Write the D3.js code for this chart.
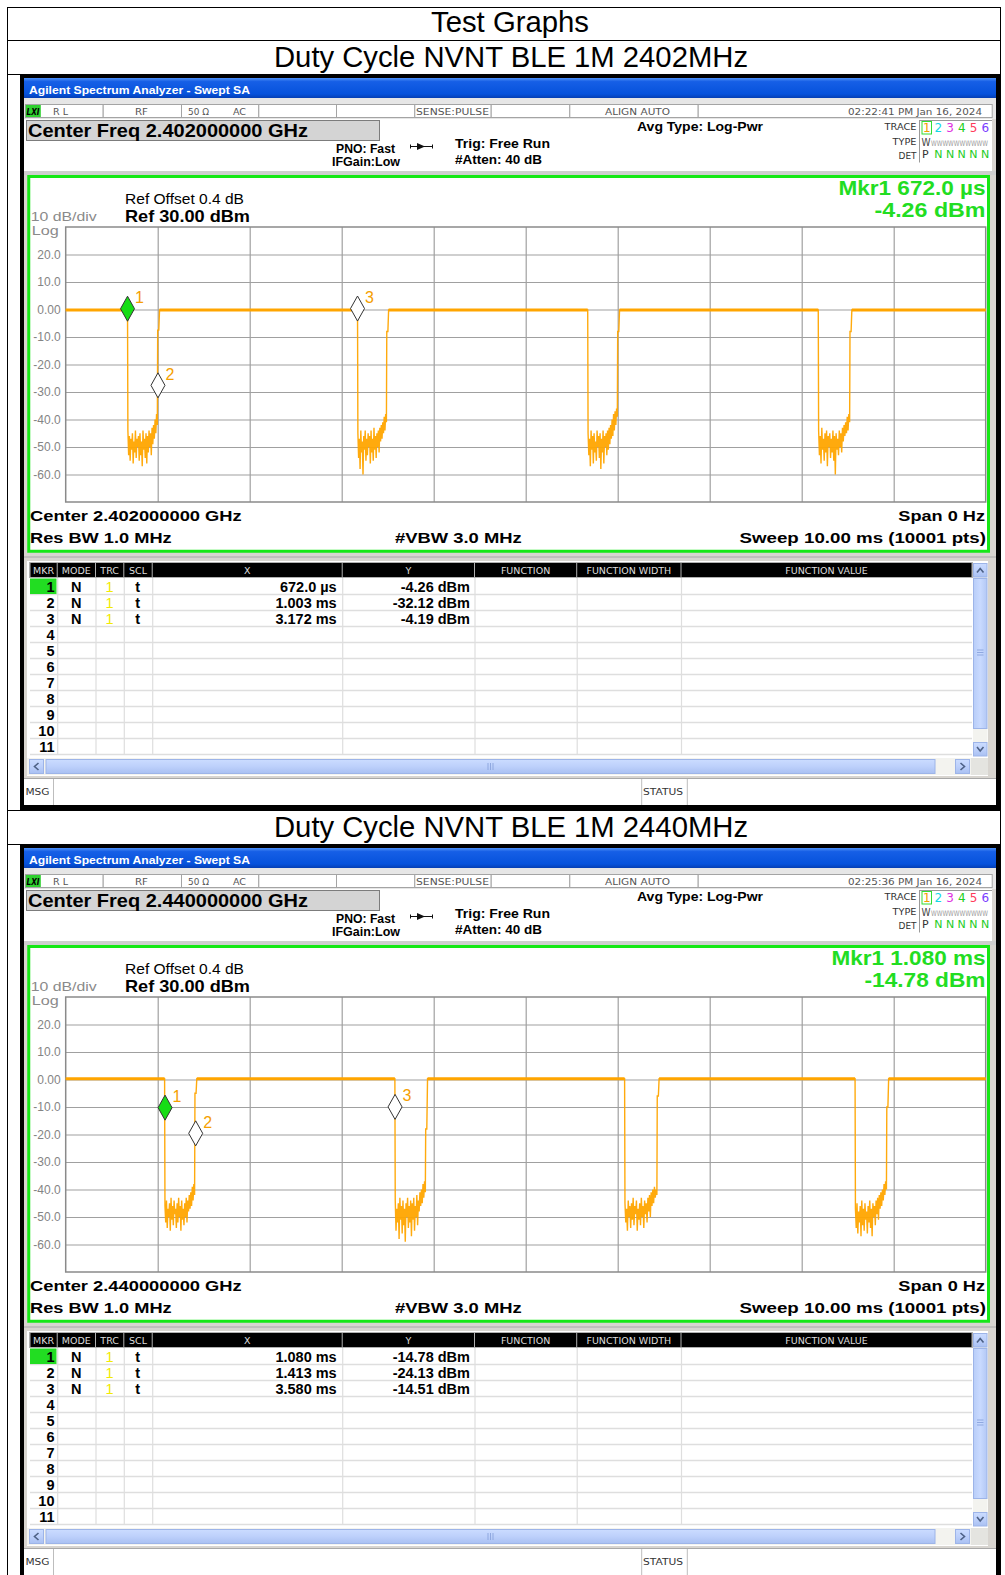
<!DOCTYPE html>
<html><head><meta charset="utf-8">
<script src="https://cdn.jsdelivr.net/npm/d3@7"></script>
<style>html,body{margin:0;padding:0;background:#fff;}svg{display:block;}</style>
</head><body><svg id="c" width="1005" height="1575"></svg>
<script>
// ---------------- DATA ----------------
const pageTitle = "Test Graphs";
const panelTitles = ["Duty Cycle NVNT BLE 1M 2402MHz", "Duty Cycle NVNT BLE 1M 2440MHz"];
const centerFreqs = ["2.402000000 GHz", "2.440000000 GHz"];
const timestamps = ["02:22:41 PM Jan 16, 2024", "02:25:36 PM Jan 16, 2024"];
const activeMkrX = ["Mkr1 672.0 µs", "Mkr1 1.080 ms"];
const activeMkrY = ["-4.26 dBm", "-14.78 dBm"];
const sweepRange = [0, 10];          // ms
const ampRange = [-70, 30];          // dBm
const xGridValues = [1, 2, 3, 4, 5, 6, 7, 8, 9];
const yTickValues = [20, 10, 0, -10, -20, -30, -40, -50, -60];
const yTickLabels = ["20.0", "10.0", "0.00", "-10.0", "-20.0", "-30.0", "-40.0", "-50.0", "-60.0"];
const tableHeaders = ["MKR", "MODE", "TRC", "SCL", "X", "Y", "FUNCTION", "FUNCTION WIDTH", "FUNCTION VALUE"];
const tableRowNumbers = ["1", "2", "3", "4", "5", "6", "7", "8", "9", "10", "11"];

// 2402 MHz
const markerTimes2402 = [0.672, 1.003, 3.172];
const markerValues2402 = [-4.26, -32.12, -4.19];
const markerXLabels2402 = ["672.0 µs", "1.003 ms", "3.172 ms"];
const markerYLabels2402 = ["-4.26 dBm", "-32.12 dBm", "-4.19 dBm"];
const onLevel2402 = -0.2;
const dipStart2402 = [0.672, 3.172, 5.674, 8.180];
const dipEnd2402 = [1.000, 3.490, 6.000, 8.525];
const riseStep2402 = [-7.5, -8, -8, -8];
const dipNoise2402 = [
  [-44,-53,-46,-55,-47,-51,-45,-56,-48,-52,-44,-54,-47,-50,-46,-55,-45,-53,-48,-57,-44,-51,-47,-54,-45,-56,-46,-52,-44,-50,-45,-53,-43,-49,-42,-47,-40,-45,-38,-42],
  [-45,-54,-47,-58,-44,-52,-48,-60,-46,-51,-44,-55,-47,-53,-45,-50,-46,-56,-44,-52,-47,-55,-43,-51,-46,-54,-45,-50,-44,-52,-43,-48,-42,-47,-41,-45,-39,-44,-38,-41],
  [-45,-53,-47,-57,-44,-51,-46,-56,-45,-52,-48,-55,-44,-50,-46,-54,-45,-58,-47,-52,-44,-56,-46,-50,-45,-53,-44,-51,-43,-49,-42,-47,-40,-46,-38,-44,-37,-42,-36,-39],
  [-44,-53,-46,-56,-43,-51,-47,-55,-45,-52,-44,-57,-46,-50,-45,-54,-47,-52,-44,-55,-46,-60,-45,-51,-47,-53,-44,-50,-45,-52,-43,-48,-42,-46,-41,-45,-39,-44,-38,-41]
];

// 2440 MHz
const markerTimes2440 = [1.080, 1.413, 3.580];
const markerValues2440 = [-14.78, -24.13, -14.51];
const markerXLabels2440 = ["1.080 ms", "1.413 ms", "3.580 ms"];
const markerYLabels2440 = ["-14.78 dBm", "-24.13 dBm", "-14.51 dBm"];
const onLevel2440 = 0.3;
const dipStart2440 = [1.075, 3.578, 6.075, 8.580];
const dipEnd2440 = [1.405, 3.913, 6.430, 8.925];
const riseStep2440 = [-5, -18, -6, -10];
const dipNoise2440 = [
  [-46,-52,-44,-54,-47,-50,-45,-55,-43,-51,-46,-53,-44,-49,-47,-54,-45,-52,-43,-50,-46,-55,-44,-51,-47,-53,-45,-50,-43,-52,-44,-48,-42,-47,-41,-46,-39,-44,-38,-42],
  [-44,-55,-47,-52,-45,-58,-43,-51,-46,-56,-44,-53,-47,-59,-45,-50,-43,-54,-46,-52,-44,-57,-45,-51,-43,-55,-46,-50,-42,-53,-44,-48,-41,-46,-40,-45,-38,-43,-37,-41],
  [-45,-52,-47,-55,-44,-50,-46,-54,-45,-51,-43,-53,-46,-49,-44,-55,-47,-51,-45,-53,-43,-50,-46,-54,-44,-49,-45,-52,-43,-48,-42,-50,-41,-46,-40,-45,-39,-43,-40,-42],
  [-47,-54,-45,-56,-48,-52,-46,-57,-44,-53,-47,-55,-45,-51,-48,-56,-46,-52,-44,-54,-47,-57,-45,-50,-46,-53,-44,-49,-43,-51,-42,-47,-41,-46,-40,-44,-38,-42,-37,-40]
];

// ---------------- HELPERS ----------------
const SANS = "'Liberation Sans', Arial, sans-serif";
const DV = "'DejaVu Sans', Verdana, sans-serif";
const svg = d3.select("#c");
const defs = svg.append("defs");
const grad = defs.append("linearGradient").attr("id", "bluebar").attr("x1", 0).attr("y1", 0).attr("x2", 0).attr("y2", 1);
[[0, "#4f90f6"], [0.18, "#165fe6"], [0.8, "#0652dc"], [1, "#053fb4"]].forEach(([o, c]) => grad.append("stop").attr("offset", o).attr("stop-color", c));
const sgrad = defs.append("linearGradient").attr("id", "sbar").attr("x1", 0).attr("y1", 0).attr("x2", 1).attr("y2", 0);
[[0, "#b8cdf8"], [0.5, "#c9daff"], [1, "#b3c8f5"]].forEach(([o, c]) => sgrad.append("stop").attr("offset", o).attr("stop-color", c));
const hgrad = defs.append("linearGradient").attr("id", "hbar").attr("x1", 0).attr("y1", 0).attr("x2", 0).attr("y2", 1);
[[0, "#cbdcff"], [0.5, "#bdd0fb"], [1, "#a9c0f2"]].forEach(([o, c]) => hgrad.append("stop").attr("offset", o).attr("stop-color", c));

function rect(g, x, y, w, h, fill, stroke, sw) {
  const r = g.append("rect").attr("x", x).attr("y", y).attr("width", w).attr("height", h).attr("fill", fill || "none");
  if (stroke) r.attr("stroke", stroke).attr("stroke-width", sw || 1);
  return r;
}
function line(g, x1, y1, x2, y2, stroke, sw) {
  return g.append("line").attr("x1", x1).attr("y1", y1).attr("x2", x2).attr("y2", y2).attr("stroke", stroke).attr("stroke-width", sw || 1);
}
function text(g, x, y, s, o = {}) {
  const t = g.append("text").attr("x", x).attr("y", y).text(s)
    .attr("font-family", o.ff || SANS).attr("font-size", o.fs || 12)
    .attr("font-weight", o.fw || "normal").attr("fill", o.fill || "#000")
    .attr("text-anchor", o.anchor || "start");
  if (o.w) t.attr("textLength", o.w).attr("lengthAdjust", "spacingAndGlyphs");
  if (o.italic) t.attr("font-style", "italic");
  return t;
}

// ---------------- PAGE TABLE ----------------
line(svg, 7.5, 7, 7.5, 1575, "#000", 1);
line(svg, 1000.5, 7, 1000.5, 75, "#000", 1);
line(svg, 1000.5, 810, 1000.5, 845, "#000", 1);
[7.5, 40.5, 74.5, 810.5, 844.5].forEach(y => line(svg, 7, y, 1001, y, "#000", 1));
text(svg, 510, 32, pageTitle, {fs: 29, anchor: "middle", w: 158});
text(svg, 511, 66.5, panelTitles[0], {fs: 29, anchor: "middle", w: 474});
text(svg, 511, 836.5, panelTitles[1], {fs: 29, anchor: "middle", w: 474});

// ---------------- SCREENS ----------------
const panels = [
  {oy: 0, cf: centerFreqs[0], ts: timestamps[0], mkrX: activeMkrX[0], mkrY: activeMkrY[0],
   on: onLevel2402, starts: dipStart2402, ends: dipEnd2402, steps: riseStep2402, noise: dipNoise2402,
   mt: markerTimes2402, mv: markerValues2402, mxl: markerXLabels2402, myl: markerYLabels2402, wX: 147, wY: 111},
  {oy: 770, cf: centerFreqs[1], ts: timestamps[1], mkrX: activeMkrX[1], mkrY: activeMkrY[1],
   on: onLevel2440, starts: dipStart2440, ends: dipEnd2440, steps: riseStep2440, noise: dipNoise2440,
   mt: markerTimes2440, mv: markerValues2440, mxl: markerXLabels2440, myl: markerYLabels2440, wX: 154, wY: 121}
];

function buildTrace(p) {
  const pts = [[sweepRange[0], p.on]];
  p.starts.forEach((s, i) => {
    const e = p.ends[i], n = p.noise[i];
    pts.push([s, p.on]);
    n.forEach((v, j) => pts.push([s + 0.004 + (e - 0.008 - s) * j / (n.length - 1), v]));
    pts.push([e, p.steps[i]], [e + 0.012, p.steps[i]], [e + 0.02, p.on]);
  });
  pts.push([sweepRange[1], p.on]);
  return pts;
}
function onSegments(p) {
  const segs = [];
  let from = sweepRange[0];
  p.starts.forEach((s, i) => { segs.push([[from, p.on], [s, p.on]]); from = p.ends[i] + 0.02; });
  segs.push([[from, p.on], [sweepRange[1], p.on]]);
  return segs;
}

function drawScreen(p) {
  const g = svg.append("g").attr("transform", `translate(0,${p.oy})`);
  const clipId = "clip" + p.oy;
  defs.append("clipPath").attr("id", clipId).append("rect").attr("x", 0).attr("y", 0).attr("width", 1005).attr("height", 1575 - p.oy);
  g.attr("clip-path", `url(#${clipId})`);

  rect(g, 20, 75, 981, 735, "#000");
  rect(g, 24, 78, 972, 727, "#d8d5d0");
  rect(g, 24, 78, 972, 20, "url(#bluebar)");
  text(g, 29, 93.5, "Agilent Spectrum Analyzer - Swept SA", {fs: 11.5, fw: "bold", fill: "#fff", w: 221});

  // status strip
  rect(g, 24, 98, 972, 21, "#e6e6e6");
  const cellEdges = [25, 102.7, 181, 258.3, 336, 414.3, 490.7, 569.3, 697.7, 991.7];
  for (let i = 0; i < cellEdges.length - 1; i++)
    rect(g, cellEdges[i] + 0.5, 104.5, cellEdges[i + 1] - cellEdges[i], 13, "#fff", "#a4a4a4", 1);
  rect(g, 25.8, 105, 15, 12, "#2fd02f");
  text(g, 26.5, 114.5, "LXI", {ff: DV, fs: 8.5, fw: "bold", italic: true, w: 13});
  const st = {ff: DV, fs: 9.5, fill: "#555"};
  text(g, 53, 114.5, "R L", Object.assign({w: 15}, st));
  text(g, 135, 114.5, "RF", Object.assign({w: 13}, st));
  text(g, 188, 114.5, "50 Ω", Object.assign({w: 21}, st));
  text(g, 233, 114.5, "AC", Object.assign({w: 13}, st));
  text(g, 416, 114.5, "SENSE:PULSE", Object.assign({w: 73}, st));
  text(g, 605, 114.5, "ALIGN AUTO", Object.assign({w: 65}, st));
  text(g, 848, 114.5, p.ts, Object.assign({w: 134}, st));

  // header white area
  rect(g, 24, 119, 968, 52, "#fff");
  rect(g, 26.5, 120.5, 353, 20, "#d4d4d4", "#7c7c7c", 1);
  text(g, 28, 136.8, "Center Freq " + p.cf, {fs: 18.5, fw: "bold", w: 280});
  text(g, 336, 152.5, "PNO: Fast", {fs: 12, fw: "bold", w: 59});
  text(g, 332, 165.8, "IFGain:Low", {fs: 12, fw: "bold", w: 68});
  line(g, 410, 146.5, 433, 146.5, "#111", 1);
  line(g, 410.5, 144.5, 410.5, 148.5, "#111", 1);
  line(g, 432.5, 144.5, 432.5, 148.5, "#111", 1);
  g.append("path").attr("d", "M417,143 L425,146.5 L417,150 Z").attr("fill", "#111");
  text(g, 455, 148.3, "Trig: Free Run", {fs: 12.5, fw: "bold", w: 95});
  text(g, 455, 164.3, "#Atten: 40 dB", {fs: 12.5, fw: "bold", w: 87});
  text(g, 637, 130.5, "Avg Type: Log-Pwr", {fs: 12.5, fw: "bold", w: 126});
  // trace block
  const tb = {ff: DV, fs: 8.5, fill: "#333", anchor: "end"};
  text(g, 916.5, 130, "TRACE", Object.assign({w: 32}, tb));
  text(g, 916.5, 145, "TYPE", Object.assign({w: 24}, tb));
  text(g, 916.5, 159, "DET", Object.assign({w: 18}, tb));
  line(g, 919.5, 120, 919.5, 162.5, "#9a9a9a", 1);
  line(g, 919, 120.5, 992, 120.5, "#9a9a9a", 1);
  const trColors = ["#f0a000", "#10d8e8", "#e030e0", "#20d020", "#ff3a5a", "#7a3cff"];
  trColors.forEach((c, i) => text(g, 926.7 + 11.7 * i, 132, String(i + 1), {ff: DV, fs: 12, fill: c, anchor: "middle"}));
  rect(g, 922, 121.5, 9.5, 12.5, "none", "#33dd33", 1);
  text(g, 921.5, 146, "W", {ff: DV, fs: 10, fill: "#444", w: 9});
  text(g, 931, 145.5, "WWWWWWWWWW", {ff: DV, fs: 7.5, fill: "#9a9a9a", w: 57});
  text(g, 922, 158, "P", {ff: DV, fs: 11, fill: "#333"});
  for (let i = 0; i < 5; i++) text(g, 938.3 + 11.7 * i, 158, "N", {ff: DV, fs: 11, fill: "#22cc22", anchor: "middle"});

  // green panel
  rect(g, 24, 171, 972, 4, "#cfcfcf");
  rect(g, 28.75, 176.5, 959.75, 374.75, "#fff", "#16e816", 3);

  text(g, 125, 204, "Ref Offset 0.4 dB", {fs: 14, w: 119});
  text(g, 125, 222.3, "Ref 30.00 dBm", {fs: 16.5, fw: "bold", w: 125});
  text(g, 30.7, 221.2, "10 dB/div", {fs: 13.5, fill: "#8a8a8a", w: 66});
  text(g, 31.7, 235, "Log", {fs: 13.5, fill: "#8a8a8a", w: 27});
  text(g, 985.5, 194.5, p.mkrX, {fs: 20.5, fw: "bold", fill: "#22dd22", anchor: "end", w: p.wX});
  text(g, 985.5, 217, p.mkrY, {fs: 20.5, fw: "bold", fill: "#22dd22", anchor: "end", w: p.wY});

  // plot
  const x = d3.scaleLinear().domain(sweepRange).range([65.7, 985.7]);
  const y = d3.scaleLinear().domain(ampRange).range([502, 227]);
  rect(g, 65.7, 227, 920, 275, "#fff");
  const gx = g.append("g").attr("transform", "translate(0,502)")
    .call(d3.axisBottom(x).tickValues(xGridValues).tickSize(-275).tickFormat(""));
  gx.select(".domain").remove();
  gx.selectAll(".tick line").attr("stroke", "#a0a0a0").attr("stroke-width", 1.2);
  const gy = g.append("g").attr("transform", "translate(65.7,0)")
    .call(d3.axisLeft(y).tickValues(yTickValues).tickSize(-920).tickPadding(5).tickFormat((d, i) => yTickLabels[i]));
  gy.select(".domain").remove();
  gy.selectAll(".tick line").attr("stroke", "#a0a0a0").attr("stroke-width", 1.2);
  gy.selectAll(".tick text").attr("fill", "#848484").attr("font-family", SANS).attr("font-size", 12);
  rect(g, 65.7, 227, 920, 275, "none", "#8a8a8a", 1.5);

  const lineGen = d3.line().x(d => x(d[0])).y(d => y(d[1]));
  g.append("path").attr("d", lineGen(buildTrace(p))).attr("fill", "none")
    .attr("stroke", "#ffa500").attr("stroke-width", 1.4).attr("stroke-linejoin", "miter").attr("opacity", 0.95);
  onSegments(p).forEach(s => g.append("path").attr("d", lineGen(s)).attr("fill", "none")
    .attr("stroke", "#ffa500").attr("stroke-width", 3));

  // markers
  p.mt.forEach((t, i) => {
    const mx = x(t), my = y(p.mv[i]);
    g.append("path").attr("d", `M${mx},${my} L${mx - 7},${my - 12.5} L${mx},${my - 25} L${mx + 7},${my - 12.5} Z`)
      .attr("fill", i === 0 ? "#16dd16" : "#fff").attr("stroke", "#333").attr("stroke-width", 1);
    text(g, mx + 7.5, my - 18, String(i + 1), {fs: 16, fill: "#f5a000"});
  });

  // bottom annotations
  const bt = {fs: 15.5, fw: "bold"};
  text(g, 30, 520.7, "Center " + p.cf, Object.assign({w: 211.7}, bt));
  text(g, 30, 542.7, "Res BW 1.0 MHz", Object.assign({w: 141.7}, bt));
  text(g, 395, 542.7, "#VBW 3.0 MHz", Object.assign({w: 126.7}, bt));
  text(g, 985, 520.7, "Span 0 Hz", Object.assign({anchor: "end", w: 86.7}, bt));
  text(g, 986, 542.7, "Sweep  10.00 ms (10001 pts)", Object.assign({anchor: "end", w: 246.5}, bt));

  // marker table
  line(g, 24, 557, 996, 557, "#a8a8a8", 1);
  rect(g, 27, 561, 961, 215, "#fff");
  const colEdges = [30, 57.2, 95.5, 123.8, 152.2, 342.2, 474.5, 576.7, 681, 972];
  rect(g, 29, 562, 944, 16, "#b0b0b0");
  for (let i = 0; i < colEdges.length - 1; i++) {
    rect(g, colEdges[i] + 0.5, 563, colEdges[i + 1] - colEdges[i] - 1, 14, "#000");
    text(g, (colEdges[i] + colEdges[i + 1]) / 2, 574, tableHeaders[i], {ff: DV, fs: 9.5, fill: "#dedede", anchor: "middle"});
  }
  for (let k = 1; k <= 11; k++) line(g, 30, 578 + 16 * k + 0.5, 972, 578 + 16 * k + 0.5, "#dedede", 1.5);
  for (let i = 1; i < colEdges.length - 1; i++) line(g, colEdges[i] + 0.5, 578, colEdges[i] + 0.5, 755, "#dedede", 1.2);
  rect(g, 30, 578.5, 26.5, 15.5, "#22dd22");
  tableRowNumbers.forEach((n, k) => {
    const by = 578 + 16 * k + 13.5;
    text(g, 54.5, by, n, {fs: 14.5, fw: "bold", anchor: "end"});
    if (k < p.mt.length) {
      text(g, 76.3, by, "N", {fs: 14.5, fw: "bold", anchor: "middle"});
      text(g, 109.5, by, "1", {fs: 14.5, fill: "#f2ea00", anchor: "middle"});
      text(g, 137.7, by, "t", {fs: 14.5, fw: "bold", anchor: "middle"});
      text(g, 336.7, by, p.mxl[k], {fs: 14.5, fw: "bold", anchor: "end"});
      text(g, 470, by, p.myl[k], {fs: 14.5, fw: "bold", anchor: "end"});
    }
  });
  // vertical scrollbar
  rect(g, 973, 563, 14.5, 193, "#f3f3ef");
  rect(g, 973.5, 563.5, 13.5, 13.5, "url(#hbar)", "#9db4e8", 1);
  g.append("path").attr("d", "M977,572.5 L980.2,568.5 L983.5,572.5").attr("fill", "none").attr("stroke", "#4d6185").attr("stroke-width", 1.6);
  rect(g, 973.5, 578.5, 13.5, 150, "url(#sbar)", "#9db4e8", 1);
  line(g, 977, 650, 983.5, 650, "#8fa8e0", 1); line(g, 977, 652.5, 983.5, 652.5, "#8fa8e0", 1); line(g, 977, 655, 983.5, 655, "#8fa8e0", 1);
  rect(g, 973.5, 742.5, 13.5, 13.5, "url(#hbar)", "#9db4e8", 1);
  g.append("path").attr("d", "M977,747 L980.2,751 L983.5,747").attr("fill", "none").attr("stroke", "#4d6185").attr("stroke-width", 1.6);
  // horizontal scrollbar
  rect(g, 27, 758, 961, 17, "#f3f3ef");
  rect(g, 29.5, 759.5, 14, 14, "url(#hbar)", "#9db4e8", 1);
  g.append("path").attr("d", "M38.5,763 L34.5,766.5 L38.5,770").attr("fill", "none").attr("stroke", "#4d6185").attr("stroke-width", 1.6);
  rect(g, 46, 759.5, 889, 14, "url(#hbar)", "#9db4e8", 1);
  line(g, 488, 763, 488, 770, "#8fa8e0", 1); line(g, 490.5, 763, 490.5, 770, "#8fa8e0", 1); line(g, 493, 763, 493, 770, "#8fa8e0", 1);
  rect(g, 955.5, 759.5, 14, 14, "url(#hbar)", "#9db4e8", 1);
  g.append("path").attr("d", "M960.5,763 L964.5,766.5 L960.5,770").attr("fill", "none").attr("stroke", "#4d6185").attr("stroke-width", 1.6);
  rect(g, 971, 758, 17, 17, "#e4e4e0");

  // message bar
  rect(g, 24, 778, 972, 27, "#fff");
  line(g, 24, 778.5, 996, 778.5, "#a8a8a8", 1);
  line(g, 53.5, 779, 53.5, 805, "#bdbdbd", 1);
  text(g, 25.5, 795, "MSG", {ff: DV, fs: 9, fill: "#333", w: 24});
  line(g, 641.7, 779, 641.7, 805, "#bdbdbd", 1);
  line(g, 687.3, 779, 687.3, 805, "#bdbdbd", 1);
  text(g, 643, 795, "STATUS", {ff: DV, fs: 9, fill: "#333", w: 40});
}

panels.forEach(drawScreen);
</script></body></html>
